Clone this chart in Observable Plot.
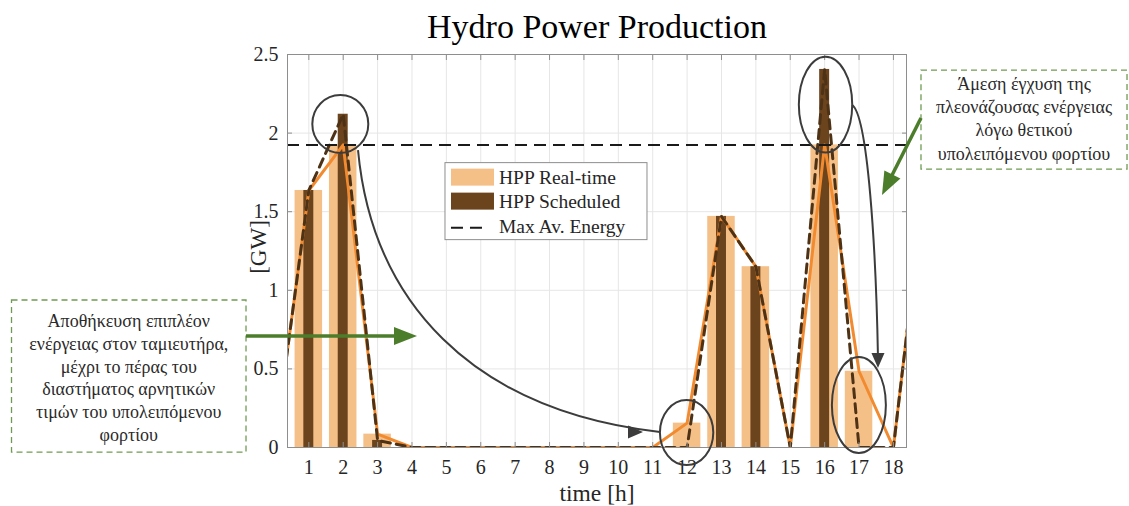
<!DOCTYPE html>
<html>
<head>
<meta charset="utf-8">
<script src="https://cdn.jsdelivr.net/npm/d3@7"></script>
<script src="https://cdn.jsdelivr.net/npm/@observablehq/plot@0.6"></script>
<style>
  body { margin: 0; background: #fff; }
  #chart { width: 1129px; height: 506px; }
</style>
</head>
<body>
<div id="chart"></div>
<script>
// Hourly hydro output (GW)
const hours = [1, 2, 3, 4, 5, 6, 7, 8, 9, 10, 11, 12, 13, 14, 15, 16, 17, 18];
const realTime  = [1.635, 1.925, 0.085, 0, 0, 0, 0, 0, 0, 0, 0, 0.155, 1.47, 1.15, 0, 1.925, 0.485, 0];
const scheduled = [1.635, 2.12, 0.045, 0, 0, 0, 0, 0, 0, 0, 0, 0, 1.47, 1.15, 0, 2.405, 0, 0];

// Neighbouring hours, so the profile lines run on past the frame edges
const edgeHours = [0, 19];
const realTimeEdges = [0, 1.86];
const scheduledEdges = [0, 1.86];

const maxAvEnergy = 1.925;

const yTicks = [0, 0.5, 1, 1.5, 2, 2.5];
const yTickLabels = ["0", "0.5", "1", "1.5", "2", "2.5"];

const title = "Hydro Power Production";
const xLabel = "time [h]";
const yLabel = "[GW]";
const legendLabels = ["HPP Real-time", "HPP Scheduled", "Max Av. Energy"];

const noteLeft = [
  "Αποθήκευση επιπλέον",
  "ενέργειας στον ταμιευτήρα,",
  "μέχρι το πέρας του",
  "διαστήματος αρνητικών",
  "τιμών του υπολειπόμενου",
  "φορτίου"
];
const noteRight = [
  "Άμεση έγχυση της",
  "πλεονάζουσας ενέργειας",
  "λόγω θετικού",
  "υπολειπόμενου φορτίου"
];

// Tables built from the arrays above
const bars = hours.map((h, i) => ({h, rt: realTime[i], sch: scheduled[i]}));
const profile = [
  {h: edgeHours[0], rt: realTimeEdges[0], sch: scheduledEdges[0]},
  ...bars,
  {h: edgeHours[1], rt: realTimeEdges[1], sch: scheduledEdges[1]}
];

const FONT = "'Liberation Serif', 'DejaVu Serif', serif";
const C = {
  rtBar: "#f5c087",
  schBar: "#6b441e",
  rtLine: "#f28b30",
  schLine: "#4e3216",
  grid: "#e6e6e6",
  frame: "#8e8e8e",
  text: "#262626",
  ring: "#3c3c3c",
  green: "#4b7d2b",
  greenBox: "#6f9c52"
};

const plot = Plot.plot({
  width: 1129,
  height: 506,
  marginLeft: 287,
  marginRight: 223,
  marginTop: 54,
  marginBottom: 59,
  style: {fontFamily: FONT, fontSize: "19px", color: C.text, background: "#fff"},
  x: {domain: [0.38, 18.38], label: null},
  y: {domain: [0, 2.5], label: null},
  marks: [
    Plot.gridX(hours, {stroke: C.grid, strokeOpacity: 1}),
    Plot.gridY(yTicks, {stroke: C.grid, strokeOpacity: 1}),
    Plot.rect(bars, {x1: d => d.h - 0.4, x2: d => d.h + 0.4, y1: () => 0, y2: "rt", fill: C.rtBar}),
    Plot.rect(bars, {x1: d => d.h - 0.145, x2: d => d.h + 0.145, y1: () => 0, y2: "sch", fill: C.schBar}),
    Plot.line(profile, {x: "h", y: "rt", stroke: C.rtLine, strokeWidth: 3, clip: true}),
    Plot.line(profile, {x: "h", y: "sch", stroke: C.schLine, strokeWidth: 3, strokeDasharray: "9,6", clip: true}),
    Plot.ruleY([maxAvEnergy], {stroke: "#1a1a1a", strokeWidth: 2, strokeDasharray: "12,7"}),
    Plot.frame({stroke: C.frame}),
    // inward tick marks on all four sides
    Plot.axisX(hours, {anchor: "bottom", tickSize: 5, dy: -5, fill: "none", stroke: C.frame, label: null}),
    Plot.axisX(hours, {anchor: "top", tickSize: 5, dy: 5, fill: "none", stroke: C.frame, label: null}),
    Plot.axisY(yTicks, {anchor: "left", tickSize: 5, dx: 5, fill: "none", stroke: C.frame, label: null}),
    Plot.axisY(yTicks, {anchor: "right", tickSize: 5, dx: -5, fill: "none", stroke: C.frame, label: null}),
    // tick labels
    Plot.axisX(hours, {anchor: "bottom", tickSize: 0, tickPadding: 12, fontSize: 20, fill: C.text, tickFormat: d => String(d), label: null}),
    Plot.axisY(yTicks, {anchor: "left", tickSize: 0, tickPadding: 9, fontSize: 20, fill: C.text, tickFormat: (d, i) => yTickLabels[i], label: null}),
    // title and axis titles
    Plot.text([title], {frameAnchor: "top", lineAnchor: "middle", textAnchor: "middle", dy: -27, fontSize: 34, fill: "#000"}),
    Plot.text([xLabel], {frameAnchor: "bottom", lineAnchor: "middle", textAnchor: "middle", dy: 46, fontSize: 23.5, fill: C.text}),
    Plot.text([yLabel], {frameAnchor: "left", lineAnchor: "middle", textAnchor: "middle", dx: -29, dy: -4, rotate: -90, fontSize: 23, fill: C.text})
  ]
});

document.getElementById("chart").appendChild(plot);

// Annotations, positioned in data units through the plot's own scales
const sx = plot.scale("x"), sy = plot.scale("y");
const X = v => sx.apply(v), Y = v => sy.apply(v);
const svg = d3.select(plot);

// Legend (upper left corner in data units)
const legendAt = {h: 4.974, v: 1.809};
const lg = svg.append("g").attr("transform", `translate(${X(legendAt.h)},${Y(legendAt.v)})`)
  .attr("font-family", FONT).attr("text-anchor", "start");
lg.append("rect").attr("width", 202).attr("height", 77).attr("fill", "#fff").attr("stroke", "#8e8e8e");
lg.append("rect").attr("x", 6).attr("y", 6).attr("width", 43).attr("height", 17).attr("fill", C.rtBar);
lg.append("rect").attr("x", 6).attr("y", 30).attr("width", 43).attr("height", 17).attr("fill", C.schBar);
lg.append("line").attr("x1", 6).attr("x2", 42).attr("y1", 65).attr("y2", 65)
  .attr("stroke", "#1a1a1a").attr("stroke-width", 2).attr("stroke-dasharray", "12,7");
legendLabels.forEach((t, i) => {
  lg.append("text").attr("x", 54).attr("y", 21 + i * 24.5).attr("font-size", 19.5)
    .attr("fill", C.text).attr("text-anchor", "start").text(t);
});

const ann = svg.append("g").attr("fill", "none");

// Rings around the highlighted hours
const rings = [
  {h: 1.93, v: 2.055, rh: 0.814, rv: 0.184},
  {h: 12.0, v: 0.092, rh: 0.776, rv: 0.207},
  {h: 16.04, v: 2.178, rh: 0.776, rv: 0.305},
  {h: 17.01, v: 0.267, rh: 0.785, rv: 0.305}
];
rings.forEach(r => {
  ann.append("ellipse")
    .attr("cx", X(r.h)).attr("cy", Y(r.v))
    .attr("rx", X(r.h + r.rh) - X(r.h)).attr("ry", Y(r.v) - Y(r.v + r.rv))
    .attr("stroke", C.ring).attr("stroke-width", 2);
});

function head(g, tip, angle, len, half, color) {
  const [tx, ty] = tip;
  const ca = Math.cos(angle), sa = Math.sin(angle);
  const bx = tx - len * ca, by = ty - len * sa;
  const pts = [[tx, ty], [bx - half * sa, by + half * ca], [bx + half * sa, by - half * ca]];
  g.append("path").attr("d", "M" + pts.map(p => p.join(",")).join("L") + "Z").attr("fill", color).attr("stroke", "none");
}

// Curved connectors between rings
const curves = [
  {pts: [[2.445, 1.889], [2.852, 0.935], [5.701, 0.235], [11.226, 0.095]], tip: [10.732, 0.095], dir: 0},
  {pts: [[16.809, 2.176], [17.274, 2.112], [17.507, 1.253], [17.565, 0.573]], tip: [17.565, 0.503], dir: Math.PI / 2}
];
curves.forEach(c => {
  const p = c.pts.map(([h, v]) => [X(h), Y(v)]);
  ann.append("path")
    .attr("d", `M${p[0]}C${p[1]} ${p[2]} ${p[3]}`)
    .attr("stroke", C.ring).attr("stroke-width", 2);
  head(ann, [X(c.tip[0]), Y(c.tip[1])], c.dir, 15, 6.5, C.ring);
});

// Callout boxes with their green arrows
const boxes = [
  {h1: -7.631, h2: -0.812, v1: 0.935, v2: -0.032, lines: noteLeft, first: 27, step: 22.8,
   arrow: {from: [-0.812, 0.706], to: [4.160, 0.706]}},
  {h1: 18.816, h2: 24.807, v1: 2.398, v2: 1.768, lines: noteRight, first: 20, step: 23.2,
   arrow: {from: [18.816, 2.093], to: [17.682, 1.603]}}
];
const notes = svg.append("g").attr("font-family", FONT);
boxes.forEach(b => {
  const x1 = X(b.h1), x2 = X(b.h2), y1 = Y(b.v1), y2 = Y(b.v2);
  notes.append("rect").attr("x", x1).attr("y", y1).attr("width", x2 - x1).attr("height", y2 - y1)
    .attr("fill", "none").attr("stroke", C.greenBox).attr("stroke-width", 1.3).attr("stroke-dasharray", "6,4");
  b.lines.forEach((t, i) => {
    notes.append("text").attr("x", (x1 + x2) / 2).attr("y", y1 + b.first + i * b.step)
      .attr("text-anchor", "middle").attr("font-size", 18).attr("fill", "#2a2a2a")
      .text(t);
  });
  const f = [X(b.arrow.from[0]), Y(b.arrow.from[1])];
  const t = [X(b.arrow.to[0]), Y(b.arrow.to[1])];
  const ang = Math.atan2(t[1] - f[1], t[0] - f[0]);
  const len = 23;
  notes.append("line").attr("x1", f[0]).attr("y1", f[1])
    .attr("x2", t[0] - (len - 2) * Math.cos(ang)).attr("y2", t[1] - (len - 2) * Math.sin(ang))
    .attr("stroke", C.green).attr("stroke-width", 3.5);
  head(notes, t, ang, len, 9, C.green);
});
</script>
</body>
</html>
